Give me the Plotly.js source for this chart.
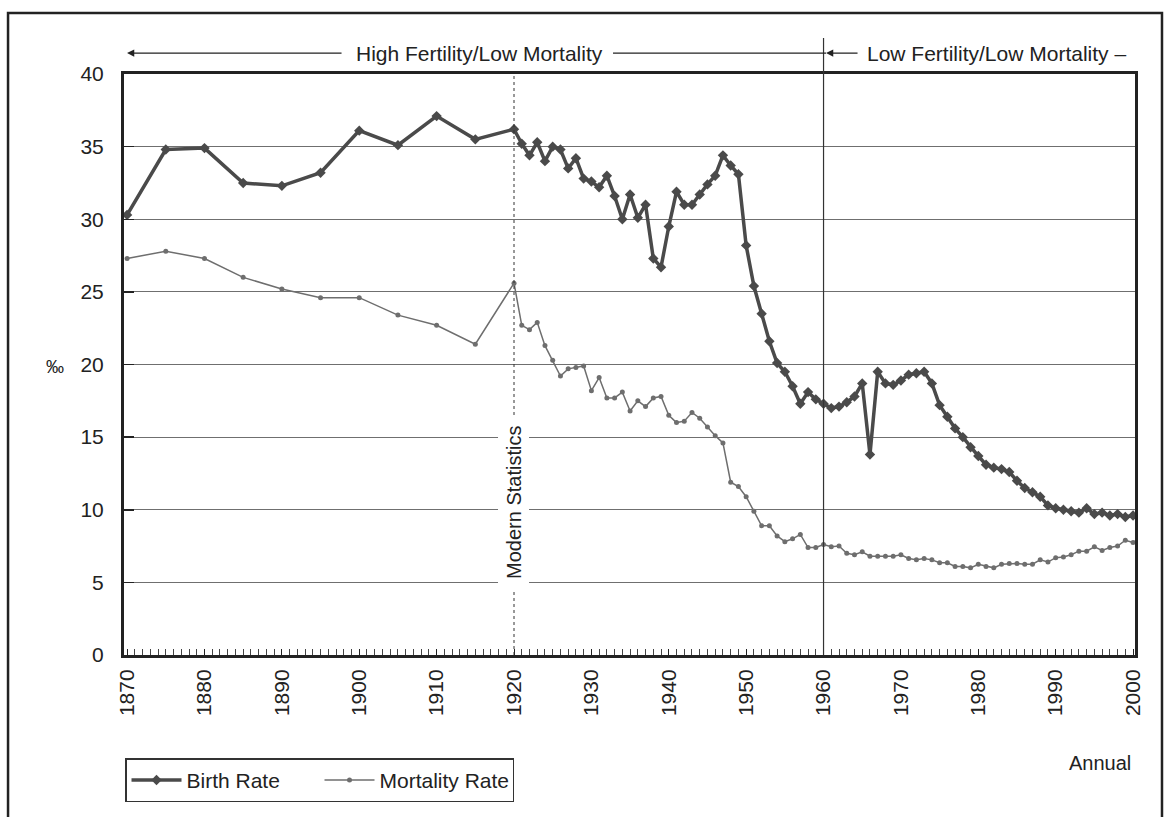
<!DOCTYPE html>
<html>
<head>
<meta charset="utf-8">
<script src="https://cdn.plot.ly/plotly-3.0.1.min.js"></script>
<style>
  html, body { margin: 0; padding: 0; background: #ffffff; }
  #chart { width: 1166px; height: 817px; }
</style>
</head>
<body>
<div id="chart"></div>
<script>
// ---- Data ----
const years = [1870, 1875, 1880, 1885, 1890, 1895, 1900, 1905, 1910, 1915, 1920,
  1921, 1922, 1923, 1924, 1925, 1926, 1927, 1928, 1929, 1930,
  1931, 1932, 1933, 1934, 1935, 1936, 1937, 1938, 1939, 1940,
  1941, 1942, 1943, 1944, 1945, 1946, 1947, 1948, 1949, 1950,
  1951, 1952, 1953, 1954, 1955, 1956, 1957, 1958, 1959, 1960,
  1961, 1962, 1963, 1964, 1965, 1966, 1967, 1968, 1969, 1970,
  1971, 1972, 1973, 1974, 1975, 1976, 1977, 1978, 1979, 1980,
  1981, 1982, 1983, 1984, 1985, 1986, 1987, 1988, 1989, 1990,
  1991, 1992, 1993, 1994, 1995, 1996, 1997, 1998, 1999, 2000];

const birthRate = [30.3, 34.8, 34.9, 32.5, 32.3, 33.2, 36.1, 35.1, 37.1, 35.5, 36.2,
  35.2, 34.4, 35.3, 34.0, 35.0, 34.8, 33.5, 34.2, 32.8, 32.6,
  32.2, 33.0, 31.6, 30.0, 31.7, 30.1, 31.0, 27.3, 26.7, 29.5,
  31.9, 31.0, 31.0, 31.7, 32.4, 33.0, 34.4, 33.7, 33.1, 28.2,
  25.4, 23.5, 21.6, 20.1, 19.5, 18.5, 17.3, 18.1, 17.6, 17.3,
  17.0, 17.1, 17.4, 17.8, 18.7, 13.8, 19.5, 18.7, 18.6, 18.9,
  19.3, 19.4, 19.5, 18.7, 17.2, 16.4, 15.6, 15.0, 14.3, 13.7,
  13.1, 12.9, 12.8, 12.6, 12.0, 11.5, 11.2, 10.9, 10.3, 10.1,
  10.0, 9.9, 9.8, 10.1, 9.7, 9.8, 9.6, 9.7, 9.5, 9.6];

const mortalityRate = [27.3, 27.8, 27.3, 26.0, 25.2, 24.6, 24.6, 23.4, 22.7, 21.4, 25.6,
  22.7, 22.4, 22.9, 21.3, 20.3, 19.2, 19.7, 19.8, 19.9, 18.2,
  19.1, 17.7, 17.7, 18.1, 16.8, 17.5, 17.1, 17.7, 17.8, 16.5,
  16.0, 16.1, 16.7, 16.3, 15.7, 15.1, 14.6, 11.9, 11.6, 10.9,
  9.9, 8.9, 8.9, 8.2, 7.8, 8.0, 8.3, 7.4, 7.4, 7.6,
  7.45, 7.5, 7.0, 6.9, 7.1, 6.8, 6.8, 6.8, 6.8, 6.9,
  6.65, 6.55, 6.65, 6.55, 6.35, 6.35, 6.1, 6.1, 6.0, 6.25,
  6.1, 6.0, 6.25, 6.3, 6.3, 6.25, 6.25, 6.55, 6.4, 6.7,
  6.75, 6.9, 7.15, 7.15, 7.45, 7.2, 7.4, 7.5, 7.9, 7.75];

const xTickVals = [1870, 1880, 1890, 1900, 1910, 1920, 1930, 1940, 1950, 1960, 1970, 1980, 1990, 2000];
const xTickText = ["1870", "1880", "1890", "1900", "1910", "1920", "1930", "1940", "1950", "1960", "1970", "1980", "1990", "2000"];
const yTickVals = [0, 5, 10, 15, 20, 25, 30, 35, 40];

const seriesNames = ["Birth Rate", "Mortality Rate"];
const modernStatsYear = 1920;
const lowFertilityYear = 1960;

// ---- Chart ----
const FONT = "Liberation Sans, Arial, Helvetica, sans-serif";
const INK = "#222222";

const traces = [
  {
    x: years, y: birthRate, name: seriesNames[0],
    type: "scatter", mode: "lines+markers",
    line: { color: "#4a4a4a", width: 3.5 },
    marker: { symbol: "diamond", size: 8, color: "#4a4a4a" }
  },
  {
    x: years, y: mortalityRate, name: seriesNames[1],
    type: "scatter", mode: "lines+markers",
    line: { color: "#6e6e6e", width: 1.5 },
    marker: { symbol: "circle", size: 5, color: "#6e6e6e" }
  }
];

const layout = {
  width: 1166, height: 817,
  margin: { l: 124, r: 31, t: 74, b: 162, pad: 0 },
  paper_bgcolor: "#ffffff", plot_bgcolor: "#ffffff",
  font: { family: FONT, size: 20, color: INK },
  showlegend: true,
  legend: {
    orientation: "h", x: 0.001, y: -0.178, xanchor: "left", yanchor: "top",
    bordercolor: "#333333", borderwidth: 1.5, bgcolor: "#ffffff",
    font: { family: FONT, size: 21, color: INK },
    itemwidth: 50, entrywidth: 128, entrywidthmode: "pixels", tracegroupgap: 0
  },
  xaxis: {
    range: [1869.6, 2000.25],
    tickmode: "array", tickvals: xTickVals, ticktext: xTickText,
    tickangle: -90,
    ticks: "inside", ticklen: 6, tickwidth: 1, tickcolor: INK,
    minor: { dtick: 1, tick0: 1870, ticks: "inside", ticklen: 6, tickwidth: 1, tickcolor: "#444444", showgrid: false },
    showgrid: false, zeroline: false,
    showline: true, linewidth: 3, linecolor: INK, mirror: true,
    tickfont: { family: FONT, size: 21, color: INK },
    ticklabelstandoff: 3,
    fixedrange: true
  },
  yaxis: {
    range: [0, 40],
    tickmode: "array", tickvals: yTickVals,
    ticks: "inside", ticklen: 10, tickwidth: 1.5, tickcolor: INK,
    showgrid: true, gridcolor: "#6f6f6f", gridwidth: 1.2,
    zeroline: false,
    showline: true, linewidth: 3, linecolor: INK, mirror: true,
    tickfont: { family: FONT, size: 21, color: INK },
    ticklabelstandoff: 13,
    fixedrange: true
  },
  shapes: [
    // outer frame
    { type: "rect", xref: "paper", yref: "paper", x0: -0.1147, x1: 1.0267, y0: -0.29, y1: 1.105,
      line: { color: INK, width: 2.5 }, fillcolor: "rgba(0,0,0,0)", layer: "below" },
    // dotted line: modern statistics
    { type: "line", xref: "x", yref: "paper", x0: modernStatsYear, x1: modernStatsYear, y0: 0, y1: 1,
      line: { color: "#333333", width: 1, dash: "dot" } },
    // solid line: low fertility start
    { type: "line", xref: "x", yref: "paper", x0: lowFertilityYear, x1: lowFertilityYear, y0: 0, y1: 1.062,
      line: { color: "#333333", width: 1.2 } },
    // line right of "High Fertility/Low Mortality" text
    { type: "line", xref: "paper", yref: "paper", x0: 0.4837, x1: 0.6944, y0: 1.036, y1: 1.036,
      line: { color: INK, width: 1.2 } }
  ],
  annotations: [
    // left arrow of first period
    { xref: "paper", yref: "paper", x: 0.003, y: 1.036, text: " ", showarrow: true,
      ax: 219, ay: 0, arrowhead: 2, arrowsize: 1.2, arrowwidth: 1.2, arrowcolor: INK, standoff: 0, startstandoff: 0 },
    { xref: "paper", yref: "paper", x: 0.352, y: 1.036, xanchor: "center", yanchor: "middle",
      text: "High Fertility/Low Mortality",
      showarrow: false, font: { family: FONT, size: 21, color: INK } },
    // left arrow of second period
    { xref: "paper", yref: "paper", x: 0.6944, y: 1.036, text: " ", showarrow: true,
      ax: 36, ay: 0, arrowhead: 2, arrowsize: 1.2, arrowwidth: 1.2, arrowcolor: INK, standoff: 0, startstandoff: 0 },
    { xref: "paper", yref: "paper", x: 0.8635, y: 1.036, xanchor: "center", yanchor: "middle",
      text: "Low Fertility/Low Mortality –",
      showarrow: false, font: { family: FONT, size: 21, color: INK } },
    // modern statistics label
    { xref: "x", yref: "y", x: modernStatsYear, y: 10.5, xanchor: "center", yanchor: "middle",
      text: " Modern Statistics ",
      textangle: -90, showarrow: false, bgcolor: "#ffffff", borderpad: 4,
      font: { family: FONT, size: 20, color: INK } },
    // y unit
    { xref: "paper", yref: "paper", x: -0.068, y: 0.496, xanchor: "center", yanchor: "middle",
      text: "‰", showarrow: false,
      font: { family: FONT, size: 18, color: INK } },
    // x unit
    { xref: "paper", yref: "paper", x: 0.965, y: -0.186, xanchor: "center", yanchor: "middle",
      text: "Annual", showarrow: false,
      font: { family: FONT, size: 20, color: INK } }
  ]
};

Plotly.newPlot("chart", traces, layout, { displayModeBar: false, staticPlot: true });
</script>
</body>
</html>
